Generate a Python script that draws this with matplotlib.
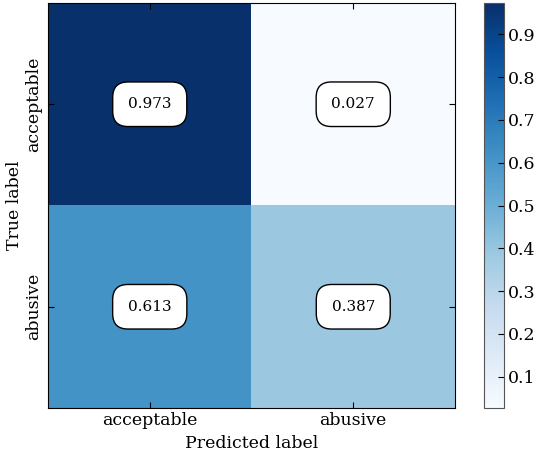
import matplotlib
matplotlib.use("Agg")
import matplotlib.pyplot as plt
import numpy as np

# Normalised confusion matrix
classes = ["acceptable", "abusive"]
cm = np.array([[0.973, 0.027],
               [0.613, 0.387]])

plt.rcParams["font.family"] = "DejaVu Serif"
plt.rcParams["xtick.direction"] = "in"
plt.rcParams["ytick.direction"] = "in"
plt.rcParams["xtick.top"] = True
plt.rcParams["ytick.right"] = True
plt.rcParams["xtick.major.size"] = 4
plt.rcParams["ytick.major.size"] = 4

fig = plt.figure(figsize=(5.39, 4.53), dpi=100)
ax = fig.add_axes([48 / 539, 45 / 453, 407 / 539, 405 / 453])
cax = fig.add_axes([484 / 539, 45 / 453, 20 / 539, 405 / 453])

im = ax.imshow(cm, interpolation="nearest", cmap=plt.cm.Blues, aspect="auto")
cb = fig.colorbar(im, cax=cax)
cb.set_ticks(np.arange(0.1, 1.0, 0.1))
cb.ax.tick_params(labelsize=12.5, direction="in", length=4, pad=3)
cb.outline.set_edgecolor("#555555")

ticks = np.arange(len(classes))
ax.set_xticks(ticks)
ax.set_xticklabels(classes, fontsize=12.5)
ax.set_yticks(ticks)
ax.set_yticklabels(classes, fontsize=12.5, rotation=90, va="center")
ax.tick_params(axis="x", pad=3)
ax.tick_params(axis="y", pad=4)

for i in range(cm.shape[0]):
    for j in range(cm.shape[1]):
        ax.text(j, i, "%.3f" % cm[i, j], ha="center", va="center", fontsize=11,
                bbox=dict(boxstyle="round,pad=1.0", facecolor="white", edgecolor="black"))

ax.set_xlabel("Predicted label", fontsize=12.5, labelpad=4)
ax.set_ylabel("True label", fontsize=12.5, labelpad=2)

fig.savefig("out.png", dpi=100)
